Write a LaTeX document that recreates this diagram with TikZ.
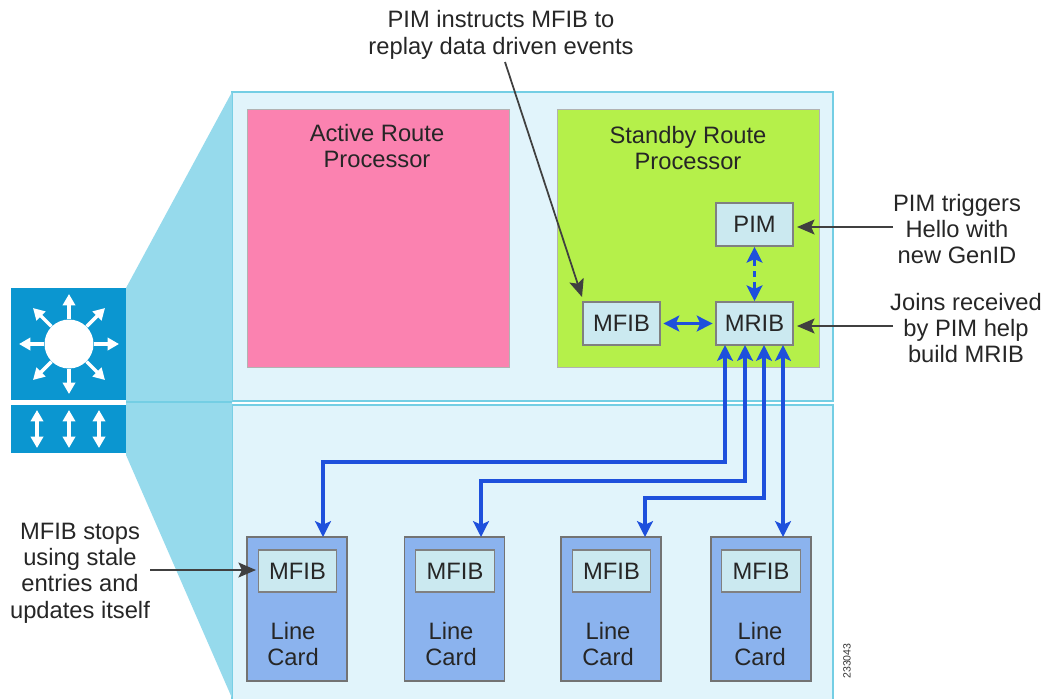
\documentclass[tikz,border=0pt]{standalone}
\usepackage{fontspec}
\setmainfont{Liberation Sans}
\usepackage{xcolor}
\usetikzlibrary{arrows.meta}

\definecolor{panelblue}{HTML}{E1F4FB}
\definecolor{panelline}{HTML}{74CEE4}
\definecolor{funnelblue}{HTML}{96DAEC}
\definecolor{iconblue}{HTML}{0B96D0}
\definecolor{activepink}{HTML}{FB82B0}
\definecolor{standbygreen}{HTML}{B5F04A}
\definecolor{boxblue}{HTML}{CBE9F0}
\definecolor{cardblue}{HTML}{8BB3EE}
\definecolor{busblue}{HTML}{1E50DC}

\tikzset{
    label/.style={font=\fontsize{13.5}{15}\selectfont, align=center, text=black!85},
    processor/.style={draw=gray!60, line width=0.6pt, anchor=north west, minimum width=5.24cm, minimum height=5.16cm},
    softbox/.style={draw=black!50, line width=0.9pt, fill=boxblue, minimum width=1.54cm, minimum height=0.86cm, label, inner sep=0pt},
    linebox/.style={softbox, minimum width=1.57cm, minimum height=0.84cm, line width=0.7pt},
    cardbox/.style={draw=black!55, line width=0.7pt, fill=cardblue, minimum width=2cm, minimum height=2.88cm},
    busline/.style={draw=busblue, line width=2pt, {Stealth[width=9pt,length=9pt,inset=2pt]}-{Stealth[width=9pt,length=9pt,inset=2pt]}},
    busdown/.style={draw=busblue, line width=2pt, -{Stealth[width=9pt,length=9pt,inset=2pt]}},
    notearrow/.style={draw=black!75, line width=1pt, -{Stealth[width=8.5pt,length=10pt,inset=2pt]}},
    iconarrow/.style={draw=white, line width=2pt, -{Triangle[width=7pt,length=6.5pt]}},
    iconboth/.style={draw=white, line width=2pt, {Triangle[width=7pt,length=6.5pt]}-{Triangle[width=7pt,length=6.5pt]}}
}

\begin{document}
\begin{tikzpicture}[x=0.02cm, y=-0.02cm]
    \useasboundingbox (0,0) rectangle (1050,698);

    % Panels
    \draw[fill=panelblue, draw=panelline, line width=0.8pt] (232,92) rectangle (833,401);
    \draw[fill=panelblue, draw=panelline, line width=0.8pt] (232,405) rectangle (833,705);

    % Funnel
    \fill[funnelblue] (126,288) -- (232,92) -- (232,698) -- (126,455) -- cycle;
    \draw[panelline, line width=1.2pt] (126,402) -- (232,402);

    % Switch icon
    \fill[iconblue] (11,288) rectangle (126,400);
    \fill[iconblue] (11,405) rectangle (126,453);
    \node[circle, fill=white, minimum size=0.98cm, inner sep=0pt] (hub) at (69,344) {};
    \coordinate (tipn) at (69,294);
    \coordinate (tips) at (69,394);
    \coordinate (tipe) at (119,344);
    \coordinate (tipw) at (19,344);
    \coordinate (tipne) at (105,308);
    \coordinate (tipnw) at (33,308);
    \coordinate (tipse) at (105,380);
    \coordinate (tipsw) at (33,380);
    \draw[iconarrow] (hub) -- (tipn);
    \draw[iconarrow] (hub) -- (tips);
    \draw[iconarrow] (hub) -- (tipe);
    \draw[iconarrow] (hub) -- (tipw);
    \draw[iconarrow] (hub) -- (tipne);
    \draw[iconarrow] (hub) -- (tipnw);
    \draw[iconarrow] (hub) -- (tipse);
    \draw[iconarrow] (hub) -- (tipsw);
    \coordinate (upa) at (37,410);
    \coordinate (upb) at (69,410);
    \coordinate (upc) at (99,410);
    \coordinate (downa) at (37,448);
    \coordinate (downb) at (69,448);
    \coordinate (downc) at (99,448);
    \draw[iconboth] (upa) -- (downa);
    \draw[iconboth] (upb) -- (downb);
    \draw[iconboth] (upc) -- (downc);

    % Route processors
    \node[processor, fill=activepink] (active) at (247,109) {};
    \node[processor, fill=standbygreen] (standby) at (557,109) {};
    \node[label] (activetext) at (377,146) {Active Route\\Processor};
    \node[label] (standbytext) at (688,148) {Standby Route\\Processor};

    % Standby processor software
    \node[softbox] (pim) at (754.5,224.5) {PIM};
    \node[softbox] (mrib) at (754.5,323.5) {MRIB};
    \node[softbox] (mfib) at (621.5,323.5) {MFIB};

    % Line cards
    \node[cardbox] (carda) at (297,609) {};
    \node[cardbox] (cardb) at (454.5,609) {};
    \node[cardbox] (cardc) at (611,609) {};
    \node[cardbox] (cardd) at (761,609) {};
    \node[linebox] (lca) at (297.5,571) {MFIB};
    \node[linebox] (lcb) at (455,571) {MFIB};
    \node[linebox] (lcc) at (611.5,571) {MFIB};
    \node[linebox] (lcd) at (761,571) {MFIB};
    \node[label] (texta) at (293,644) {Line\\Card};
    \node[label] (textb) at (451,644) {Line\\Card};
    \node[label] (textc) at (608,644) {Line\\Card};
    \node[label] (textd) at (760,644) {Line\\Card};

    % MRIB links
    \draw[busline, shorten >=1.5pt, shorten <=1.5pt] (mfib) -- (mrib);
    \draw[busline, dash pattern=on 4.5pt off 3pt on 3pt off 3pt on 4.5pt] (pim) -- (mrib);

    % Buses down to the line cards
    \coordinate (tapa) at (725,345);
    \coordinate (tapb) at (745,345);
    \coordinate (tapc) at (764,345);
    \coordinate (tapd) at (783,345);
    \coordinate (dropa) at (323,537);
    \coordinate (dropb) at (481,537);
    \coordinate (dropc) at (645,537);
    \coordinate (dropd) at (783,537);
    \coordinate (turna) at (725,462);
    \coordinate (turnb) at (745,481);
    \coordinate (turnc) at (764,498);
    \draw[busline] (tapa) -- (turna) -| (dropa);
    \draw[busline] (tapb) -- (turnb) -| (dropb);
    \draw[busline] (tapc) -- (turnc) -| (dropc);
    \draw[busline] (tapd) -- (dropd);

    % Notes
    \node[label] (notetop) at (501,35) {PIM instructs MFIB to\\replay data driven events};
    \node[label] (notepim) at (957,229) {PIM triggers\\Hello with\\new GenID};
    \node[label] (notejoin) at (966,328) {Joins received\\by PIM help\\build MRIB};
    \node[label] (notestop) at (80,573) {MFIB stops\\using stale\\entries and\\updates itself};
    \node[font=\fontsize{6}{6}\selectfont, rotate=90, text=black!80] (figid) at (847,661) {233043};

    \coordinate (topstart) at (505,62);
    \coordinate (mfibcorner) at (582,297);
    \coordinate (pimstart) at (893,227);
    \coordinate (pimport) at (797,227);
    \coordinate (joinstart) at (893,326);
    \coordinate (joinport) at (797,326);
    \coordinate (stopstart) at (150,570);
    \coordinate (stopport) at (256,570);
    \draw[notearrow] (topstart) -- (mfibcorner);
    \draw[notearrow] (pimstart) -- (pimport);
    \draw[notearrow] (joinstart) -- (joinport);
    \draw[notearrow] (stopstart) -- (stopport);
\end{tikzpicture}
\end{document}
